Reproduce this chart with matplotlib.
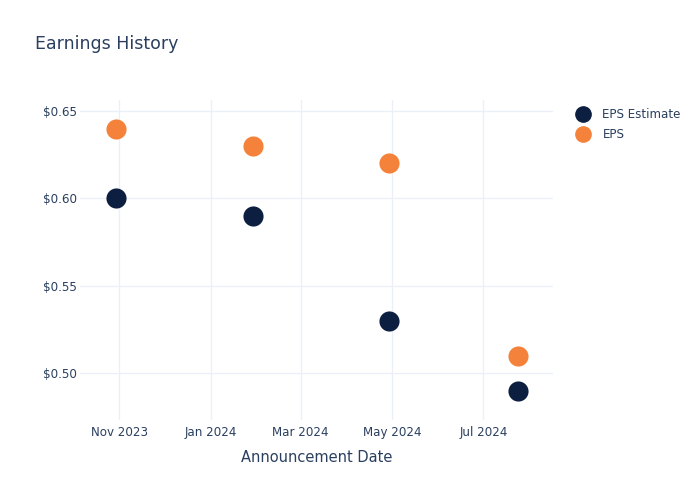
import matplotlib
matplotlib.use("Agg")
import matplotlib.pyplot as plt
import matplotlib.dates as mdates
import pandas as pd
from matplotlib.lines import Line2D

# Data
dates = ["2023-10-30", "2024-01-29", "2024-04-29", "2024-07-24"]
eps_estimate = [0.60, 0.59, 0.53, 0.49]
eps_actual = [0.64, 0.63, 0.62, 0.51]
y_ticks = [0.50, 0.55, 0.60, 0.65]
x_ticks = ["2023-11-01", "2024-01-01", "2024-03-01", "2024-05-01", "2024-07-01"]

text_color = "#2a3f5f"
grid_color = "#ebf0f8"
navy = "#0c1f40"
orange = "#f5823a"

x = pd.to_datetime(dates)

fig = plt.figure(figsize=(7, 5), dpi=100)
ax = fig.add_axes([80 / 700, 80 / 500, 473 / 700, 320 / 500])

ax.scatter(x, eps_estimate, s=210, color=navy, zorder=3, linewidths=0)
ax.scatter(x, eps_actual, s=210, color=orange, zorder=3, linewidths=0)

# Axes ranges and ticks
ax.set_xlim(pd.Timestamp("2023-10-05 20:00"), pd.Timestamp("2024-08-16 12:00"))
ax.set_ylim(0.4733, 0.6563)
ax.set_xticks(pd.to_datetime(x_ticks))
ax.xaxis.set_major_formatter(mdates.DateFormatter("%b %Y"))
ax.set_yticks(y_ticks)
ax.set_yticklabels([f"${v:.2f}" for v in y_ticks])

ax.grid(True, color=grid_color, linewidth=1)
ax.set_axisbelow(True)
for s in ax.spines.values():
    s.set_visible(False)
ax.tick_params(length=0, labelsize=8.6, colors=text_color)
ax.tick_params(axis="x", pad=4)
ax.tick_params(axis="y", pad=2)

ax.set_xlabel("Announcement Date", fontsize=10.5, color=text_color, labelpad=8)
fig.text(35 / 700, 1 - 44 / 500, "Earnings History", fontsize=12.5,
         color=text_color, va="center", ha="left")

# Legend
handles = [
    Line2D([], [], marker="o", linestyle="", markersize=11, color=navy, label="EPS Estimate"),
    Line2D([], [], marker="o", linestyle="", markersize=11, color=orange, label="EPS"),
]
leg = fig.legend(handles=handles, loc="upper left", bbox_to_anchor=(569 / 700, 1 - 103 / 500),
                 frameon=False, fontsize=8.6, handletextpad=0.9, labelspacing=0.6,
                 handlelength=1.5, borderaxespad=0)
for t in leg.get_texts():
    t.set_color(text_color)

plt.savefig("out.png", dpi=100)
